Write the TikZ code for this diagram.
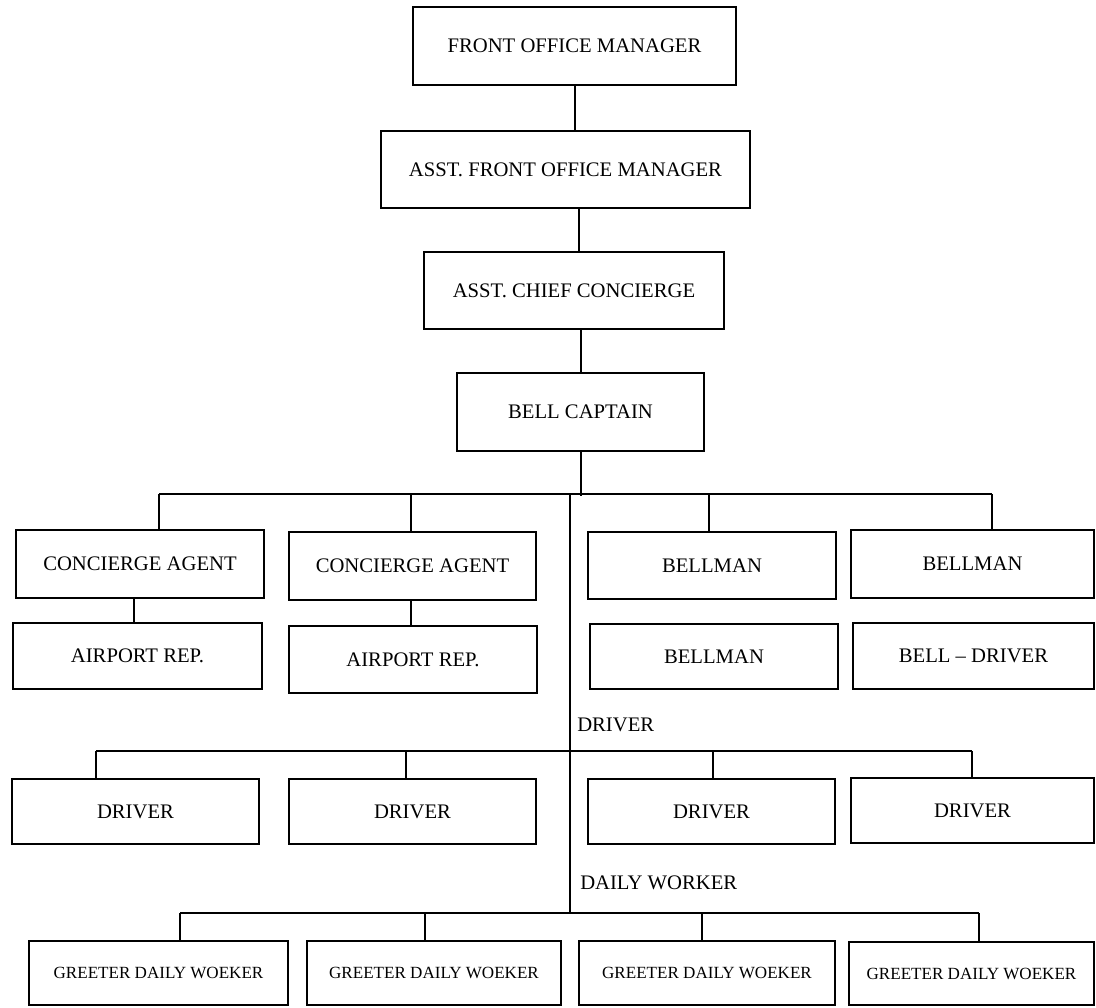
\documentclass[tikz,border=0pt]{standalone}
\usepackage{fontspec}
\setmainfont{Liberation Serif}
\usetikzlibrary{calc}

% A box given by its corners in pixel units (x grows right, y grows down)
\newcommand{\orgbox}[7][]{%
  \node[orgbox,#1,
        minimum width={(#4-#2)*0.75pt},
        minimum height={(#5-#3)*0.75pt}]
        (#6) at ({(#2+#4)/2},{(#3+#5)/2}) {#7};}

\begin{document}
\begin{tikzpicture}[x=0.75pt,y=-0.75pt,
  orgbox/.style={draw=black, line width=1.3pt, fill=white, inner sep=0pt,
                 font=\fontsize{15.5}{18}\selectfont},
  small/.style={font=\fontsize{12.8}{15}\selectfont},
  tag/.style={anchor=west, inner sep=0pt, font=\fontsize{15.5}{18}\selectfont},
  link/.style={draw=black, line width=1.3pt}]

\useasboundingbox[fill=white] (0,0) rectangle (1096,1007);

% top of the chain
\orgbox{413}{7}{736}{85}{fom}{FRONT OFFICE MANAGER}
\orgbox{381}{131}{750}{208}{afom}{ASST. FRONT OFFICE MANAGER}
\orgbox{424}{252}{724}{329}{acc}{ASST. CHIEF CONCIERGE}
\orgbox{457}{373}{704}{451}{bc}{BELL CAPTAIN}

% concierge and bell staff
\orgbox{16}{530}{264}{598}{ca1}{CONCIERGE AGENT}
\orgbox{289}{532}{536}{600}{ca2}{CONCIERGE AGENT}
\orgbox{588}{532}{836}{599}{bm1}{BELLMAN}
\orgbox{851}{530}{1094}{598}{bm2}{BELLMAN}
\orgbox{13}{623}{262}{689}{ar1}{AIRPORT REP.}
\orgbox{289}{626}{537}{693}{ar2}{AIRPORT REP.}
\orgbox{590}{624}{838}{689}{bm3}{BELLMAN}
\orgbox{853}{623}{1094}{689}{bd}{BELL -- DRIVER}

% drivers
\orgbox{12}{779}{259}{844}{dr1}{DRIVER}
\orgbox{289}{779}{536}{844}{dr2}{DRIVER}
\orgbox{588}{779}{835}{844}{dr3}{DRIVER}
\orgbox{851}{778}{1094}{843}{dr4}{DRIVER}

% greeters
\orgbox[small]{29}{941}{288}{1005}{gr1}{GREETER DAILY WOEKER}
\orgbox[small]{307}{941}{561}{1005}{gr2}{GREETER DAILY WOEKER}
\orgbox[small]{579}{941}{835}{1005}{gr3}{GREETER DAILY WOEKER}
\orgbox[small]{849}{942}{1094}{1005}{gr4}{GREETER DAILY WOEKER}

% group labels
\node[tag] (drvtag) at (577,725) {DRIVER};
\node[tag] (dwtag) at (580,883) {DAILY WORKER};

% junction points
\coordinate (barA) at (0,494);
\coordinate (barB) at (0,751);
\coordinate (barC) at (0,913);
\coordinate (spine) at (570,0);

% vertical chain
\draw[link] (fom.south -| 575,0) -- (575,131);
\draw[link] (579,208) -- (579,252);
\draw[link] (581,329) -- (581,373);
\draw[link] (bc.south -| 581,0) -- (581,496);

% first branch bar
\coordinate (a1) at (159,494);
\coordinate (a2) at (411,494);
\coordinate (a3) at (709,494);
\coordinate (a4) at (992,494);
\draw[link] (a1) -- (a4);
\draw[link] (a1) -- (a1 |- ca1.north);
\draw[link] (a2) -- (a2 |- ca2.north);
\draw[link] (a3) -- (a3 |- bm1.north);
\draw[link] (a4) -- (a4 |- bm2.north);
\draw[link] (134,598) -- (134,623);
\draw[link] (411,600) -- (411,626);

% spine down to the lower bars
\draw[link] (spine |- barA) -- (spine |- barC);

% driver bar
\coordinate (b1) at (96,751);
\coordinate (b2) at (406,751);
\coordinate (b3) at (713,751);
\coordinate (b4) at (972,751);
\draw[link] (b1) -- (b4);
\draw[link] (b1) -- (b1 |- dr1.north);
\draw[link] (b2) -- (b2 |- dr2.north);
\draw[link] (b3) -- (b3 |- dr3.north);
\draw[link] (b4) -- (b4 |- dr4.north);

% daily worker bar
\coordinate (c1) at (180,913);
\coordinate (c2) at (425,913);
\coordinate (c3) at (702,913);
\coordinate (c4) at (979,913);
\draw[link] (c1) -- (c4);
\draw[link] (c1) -- (c1 |- gr1.north);
\draw[link] (c2) -- (c2 |- gr2.north);
\draw[link] (c3) -- (c3 |- gr3.north);
\draw[link] (c4) -- (c4 |- gr4.north);

\end{tikzpicture}
\end{document}
